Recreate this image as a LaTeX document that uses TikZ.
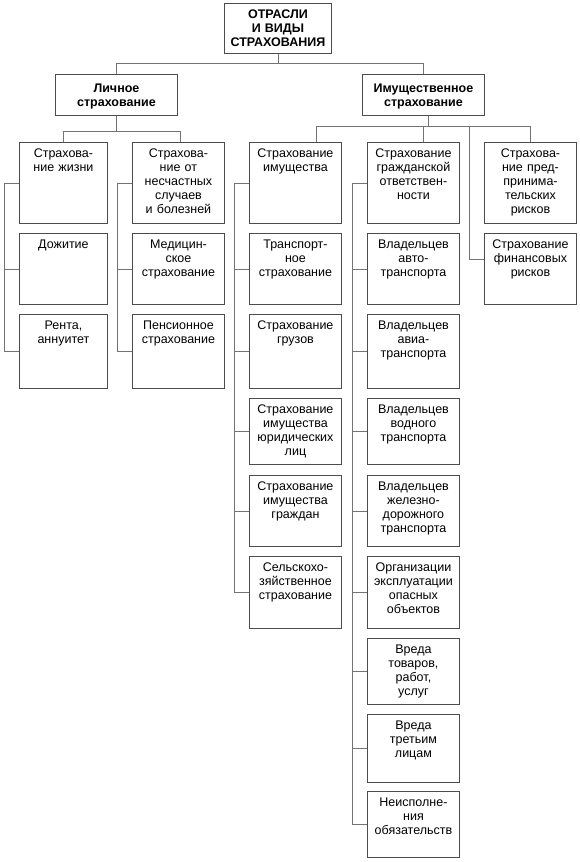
\documentclass[tikz,border=0pt]{standalone}
\usepackage{fontspec}
\setsansfont{Liberation Sans}

\begin{document}
\begin{tikzpicture}[
  x=1pt, y=-1pt,
  font=\sffamily\fontsize{12.5}{14}\selectfont,
  cell/.style={draw=black!70, line width=0.9pt, anchor=north west, inner xsep=0pt, inner ysep=4pt,
    text width=92pt, align=center, text height=11.5pt},
  head/.style={cell, font=\sffamily\bfseries\fontsize{12.5}{14}\selectfont, text width=122pt, text height=14.5pt},
  link/.style={draw=black!55, line width=0.8pt}
]
\useasboundingbox (0,0) rectangle (580,862);

% top levels
\node[head, text width=107pt, text height=11.5pt, text depth=30.5pt] (root) at (224,3) {ОТРАСЛИ\\И ВИДЫ\\СТРАХОВАНИЯ};
\node[head, text depth=18.5pt] (lich)  at (55,74)  {Личное\\страхование};
\node[head, text depth=18.5pt] (imush) at (362,74) {Имущественное\\страхование};

% personal insurance
\node[cell, text width=88pt, text depth=61.5pt] (lz1) at (19,142) {Страхова-\\ние жизни};
\node[cell, text width=88pt, text depth=51.5pt] (lz2) at (19,233) {Дожитие};
\node[cell, text width=88pt, text depth=54.5pt] (lz3) at (19,314) {Рента,\\аннуитет};
\node[cell, text depth=61.5pt] (ns1) at (132,142) {Страхова-\\ние от\\несчастных\\случаев\\и болезней};
\node[cell, text depth=51.5pt] (ns2) at (132,233) {Медицин-\\ское\\страхование};
\node[cell, text depth=54.5pt] (ns3) at (132,314) {Пенсионное\\страхование};

% property
\node[cell, text depth=61.5pt] (im1) at (249,142) {Страхование\\имущества};
\node[cell, text depth=51.5pt] (im2) at (249,233) {Транспорт-\\ное\\страхование};
\node[cell, text depth=54.5pt] (im3) at (249,314) {Страхование\\грузов};
\node[cell, text depth=46.5pt] (im4) at (249,398) {Страхование\\имущества\\юридических\\лиц};
\node[cell, text depth=51.5pt] (im5) at (249,475) {Страхование\\имущества\\граждан};
\node[cell, text depth=52.5pt] (im6) at (249,556) {Сельскохо-\\зяйственное\\страхование};

% liability
\node[cell, text depth=61.5pt] (go1) at (367,142) {Страхование\\гражданской\\ответствен-\\ности};
\node[cell, text depth=51.5pt] (go2) at (367,233) {Владельцев\\авто-\\транспорта};
\node[cell, text depth=54.5pt] (go3) at (367,314) {Владельцев\\авиа-\\транспорта};
\node[cell, text depth=46.5pt] (go4) at (367,398) {Владельцев\\водного\\транспорта};
\node[cell, text depth=51.5pt] (go5) at (367,475) {Владельцев\\железно-\\дорожного\\транспорта};
\node[cell, text depth=52.5pt] (go6) at (367,556) {Организации\\эксплуатации\\опасных\\объектов};
\node[cell, text depth=46.5pt] (go7) at (367,638) {Вреда\\товаров,\\работ,\\услуг};
\node[cell, text depth=48.5pt] (go8) at (367,714) {Вреда\\третьим\\лицам};
\node[cell, text depth=46.5pt] (go9) at (367,791) {Неисполне-\\ния\\обязательств};

% business risks
\node[cell, text depth=61.5pt] (pr1) at (484,142) {Страхова-\\ние пред-\\принима-\\тельских\\рисков};
\node[cell, text depth=51.5pt] (pr2) at (484,233) {Страхование\\финансовых\\рисков};

% tree links
\draw[link] (root.south) -- ++(0,10);
\draw[link] (lich.north) -- ++(0,-11) -| (imush.north);
\draw[link] (lich.south) -- ++(0,16);
\draw[link] (lz1.north) -- ++(0,-11) -| ([xshift=2pt]ns1.north);
\draw[link] ([xshift=5pt]imush.south) -- ++(0,11);
\draw[link] ([xshift=21pt]im1.north) -- ++(0,-16) -| (pr1.north);
\draw[link] ([xshift=10pt]go1.north) -- ++(0,-16);
\coordinate (fbus) at (469,126);
\draw[link] (fbus) |- ([yshift=10pt]pr2.west);

% side brackets
\draw[link] (lz1.west) -- ++(-15,0) |- (lz3.west);
\draw[link] (lz2.west) -- ++(-15,0);
\draw[link] (ns1.west) -- ++(-15,0) |- (ns3.west);
\draw[link] (ns2.west) -- ++(-15,0);
\draw[link] (im1.west) -- ++(-15,0) |- (im6.west);
\draw[link] (im2.west) -- ++(-15,0) (im3.west) -- ++(-15,0)
            (im4.west) -- ++(-15,0) (im5.west) -- ++(-15,0);
\draw[link] (go1.west) -- ++(-15,0) |- (go9.west);
\draw[link] (go2.west) -- ++(-15,0) (go3.west) -- ++(-15,0)
            (go4.west) -- ++(-15,0) (go5.west) -- ++(-15,0)
            (go6.west) -- ++(-15,0) (go7.west) -- ++(-15,0)
            (go8.west) -- ++(-15,0);
\end{tikzpicture}
\end{document}
